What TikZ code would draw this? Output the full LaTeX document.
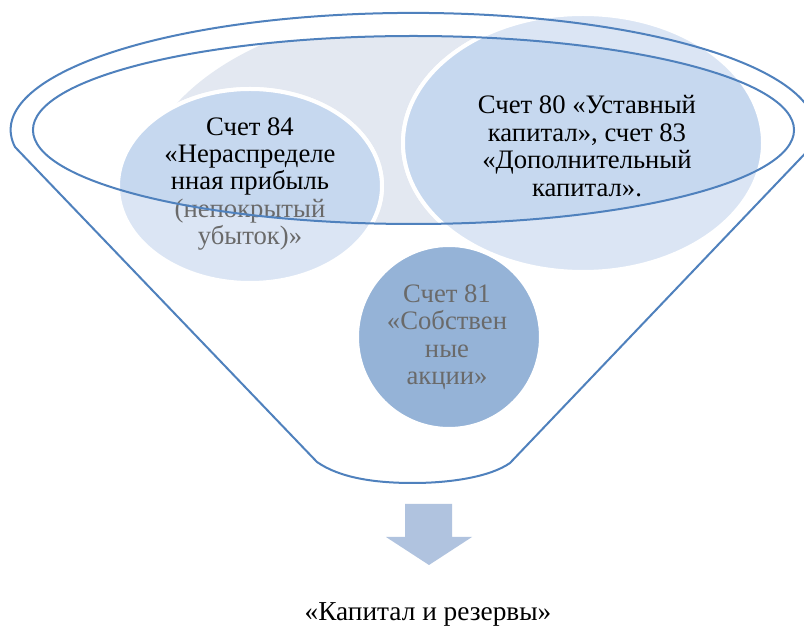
\documentclass[tikz,border=0pt]{standalone}
\usepackage{fontspec}
\setmainfont{Liberation Serif}
\begin{document}
\begin{tikzpicture}[x=0.75pt,y=-0.75pt]
\definecolor{funnelblue}{HTML}{4F81BD}
\definecolor{palefill}{HTML}{E3E8F1}
\definecolor{circdark}{HTML}{C6D8EF}
\definecolor{circlight}{HTML}{DBE5F4}
\definecolor{circmid}{HTML}{95B3D7}
\definecolor{arrowfill}{HTML}{B0C3DF}
\definecolor{txtgray}{HTML}{6A6A6A}
\tikzset{
  whiteedge/.style={draw=white, line width=3pt},
  funnelline/.style={draw=funnelblue, line width=1.5pt, line join=round},
  label/.style={align=center, inner sep=0pt, font=\fontsize{20}{20.6}\selectfont},
}
\useasboundingbox (0,0) rectangle (804,630);
\fill[white] (0,0) rectangle (804,630);

% pale background ellipse, visible only inside the funnel opening
\begin{scope}
  \clip (413.5,130) ellipse [x radius=285.4pt, y radius=70.5pt];
  \fill[palefill] (450,190) ellipse [x radius=232.5pt, y radius=137.25pt];
\end{scope}

% circle 81
\path[whiteedge, fill=circmid] (449,337) ellipse [x radius=69pt, y radius=69pt];

% circle 84
\path[whiteedge, fill=circlight] (250,186) ellipse [x radius=99pt, y radius=72.75pt];
\begin{scope}
  \clip (413.5,130) ellipse [x radius=285.4pt, y radius=70.5pt];
  \path[whiteedge, fill=circdark] (250,186) ellipse [x radius=99pt, y radius=72.75pt];
\end{scope}

% circle 80
\path[whiteedge, fill=circlight] (583,143) ellipse [x radius=135pt, y radius=96.75pt];
\begin{scope}
  \clip (413.5,130) ellipse [x radius=285.4pt, y radius=70.5pt];
  \path[whiteedge, fill=circdark] (583,143) ellipse [x radius=135pt, y radius=96.75pt];
\end{scope}

% texts
\node[label] (c84) at (250,184) {Счет 84\\«Нераспределе\\нная прибыль\\\textcolor{txtgray}{(непокрытый}\\\textcolor{txtgray}{убыток)»}};
\node[label] (c80) at (587,146) {Счет 80 «Уставный\\капитал», счет 83\\«Дополнительный\\капитал».};
\node[label, text=txtgray] (c81) at (447,337) {Счет 81\\«Собствен\\ные\\акции»};

% funnel outline
\path[funnelline] (15,147) arc[start angle=188.4, end angle=-8.4, x radius=301.875pt, y radius=87.75pt]
  -- (510,463) .. controls (490,477) and (450,483) .. (413,483)
  .. controls (375,483) and (340,478) .. (317,462) -- cycle;
\path[funnelline] (413.5,130) ellipse [x radius=285.4pt, y radius=70.5pt];

% arrow
\fill[arrowfill] (405,504) -- (452,504) -- (452,537) -- (472,537) -- (429,565) -- (386,537) -- (405,537) -- cycle;

\node[label, font=\fontsize{20.5}{22}\selectfont] (result) at (428,614) {«Капитал и резервы»};
\end{tikzpicture}
\end{document}
